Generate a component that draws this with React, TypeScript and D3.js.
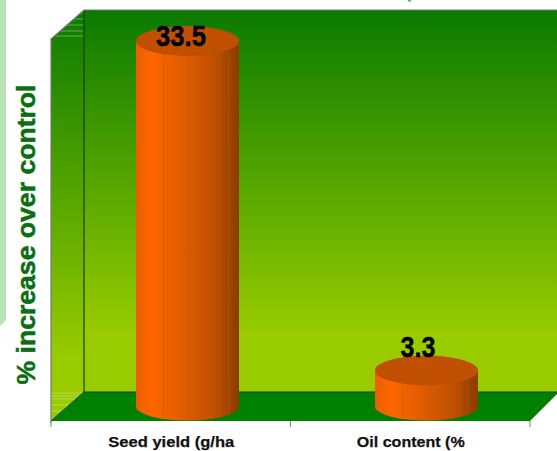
import React from "react";
import * as d3 from "d3";

const categories = ["Seed yield (g/ha", "Oil content (%"];
const values = [33.5, 3.3];
const valueLabels = ["33.5", "3.3"];
const yTitle = "% increase over control";
const sheen = [0.27, 0.5, 0.6, 0.73, 0.82, 0.9];

const W = 557, H = 451;
const front = { l: 51, r: 530, b: 421, t: 39 };
const dx = 33, dy = 29;
const yBase = 406.5;
const y = d3.scaleLinear().domain([0, 35]).range([yBase, yBase - 35 * 10.91]);
const xAxis = d3.scalePoint<string>().domain(["0", "1", "2"]).range([front.l, front.r]);
const xBand = d3.scaleBand().domain(categories).range([68, 546]);
const line = d3.line();

export default function App() {
  const rx = 51.5, ry = 14;
  return (
    <svg width={W} height={H} viewBox={`0 0 ${W} ${H}`} style={{ position: "fixed", left: 0, top: 0, display: "block" }}>
      <defs>
        <linearGradient id="wall" x1="0" y1="0" x2="0" y2="1">
          <stop offset="0" stopColor="#0a7a00" />
          <stop offset="0.85" stopColor="#99cc00" />
          <stop offset="1" stopColor="#99cc00" />
        </linearGradient>
        <linearGradient id="body" x1="0" y1="0" x2="1" y2="0">
          <stop offset="0" stopColor="#e85f00" />
          <stop offset="0.15" stopColor="#ff6600" />
          <stop offset="0.5" stopColor="#dc5a00" />
          <stop offset="0.75" stopColor="#c25000" />
          <stop offset="1" stopColor="#8a3c00" />
        </linearGradient>
      </defs>
      <rect width={W} height={H} fill="#fff" />
      <path d="M0,0 L6,0 L6,320 L0,326 Z" fill="#b6e2b6" />
      <rect x={408} y={0} width={3} height={1.5} fill="#33cc33" />

      <rect x={front.l + dx} y={front.t - dy} width={W - front.l - dx + 2} height={front.b - front.t} fill="url(#wall)" />
      <path d={line([[front.l, front.t], [front.l + dx, front.t - dy], [front.l + dx, front.b - dy], [front.l, front.b]])! + "Z"} fill="url(#wall)" />
      {[13, 19, 25, 31, 36].map((yy) => (
        <line key={yy} x1={Math.max(front.l, 84 - (yy - 10) * 33 / 29)} x2={84} y1={yy} y2={yy} stroke="#fff" strokeOpacity={0.35} />
      ))}
      {[393, 396, 399, 405, 411].map((yy) => (
        <line key={yy} x1={front.l} x2={84 - (yy - 392) * 33 / 29} y1={yy} y2={yy} stroke="#fff" strokeOpacity={0.3} />
      ))}
      <path d={line([[front.l, front.b], [front.l + dx, front.b - dy], [W + 2, front.b - dy], [front.r, front.b]])! + "Z"} fill="#008000" />
      <path d={line([[front.l + dx, front.t - dy], [front.l + dx, front.b - dy], [W, front.b - dy]])!} stroke="#1a3d00" strokeWidth={1.2} fill="none" />
      <path d={line([[front.l + dx, front.b - dy], [front.l, front.b]])!} stroke="#1a3d00" strokeWidth={1} fill="none" />
      <path d={line([[front.l, front.b + 2], [front.l, front.t], [front.l + dx, front.t - dy], [W, front.t - dy]])!} stroke="#777" strokeWidth={1.2} fill="none" />
      {xAxis.domain().map((d) => (
        <line key={d} x1={xAxis(d)!} x2={xAxis(d)!} y1={front.b} y2={front.b + 6} stroke="#5a9a5a" />
      ))}

      {values.map((v, i) => {
        const c = categories[i];
        const cx = xBand(c)! + xBand.bandwidth() / 2;
        const top = y(v);
        const x0 = cx - rx, x1 = cx + rx;
        return (
          <g key={c}>
            <path d={`M${x0},${top} L${x0},${yBase} A${rx},${ry} 0 0 0 ${x1},${yBase} L${x1},${top} Z`} fill="url(#body)" />
            {sheen.map((s) => {
              const xx = x0 + s * rx * 2;
              const bot = yBase + ry * Math.sqrt(Math.max(0, 1 - Math.pow((xx - cx) / rx, 2)));
              return <line key={s} x1={xx} x2={xx} y1={top + 12} y2={bot} stroke="#a86a10" strokeOpacity={0.5} />;
            })}
            <ellipse cx={cx} cy={top} rx={rx} ry={ry + 1} fill="#c05000" />
            <text x={cx - (i === 0 ? 6.5 : 8.5)} y={top + (i === 0 ? 5 : -13)} textAnchor="middle" fontFamily="Liberation Sans" fontWeight="bold" fontSize={30}
              textLength={i === 0 ? 50 : 35} lengthAdjust="spacingAndGlyphs" fill="#000" stroke="#000" strokeWidth={0.4}>
              {valueLabels[i]}
            </text>
            <text x={(xAxis(String(i))! + xAxis(String(i + 1))!) / 2 + 0.5} y={446.5} textAnchor="middle" fontFamily="Liberation Sans" fontWeight="bold" fontSize={15.5}
              textLength={i === 0 ? 126 : 108} lengthAdjust="spacingAndGlyphs" fill="#111" stroke="#111" strokeWidth={0.25}>
              {c}
            </text>
          </g>
        );
      })}

      <text transform="translate(35,234.5) rotate(-90)" textAnchor="middle" fontFamily="Liberation Sans" fontWeight="bold" fontSize={26}
        textLength={300} lengthAdjust="spacingAndGlyphs" fill="#0b6e12" stroke="#0b6e12" strokeWidth={0.5}>
        {yTitle}
      </text>
    </svg>
  );
}
